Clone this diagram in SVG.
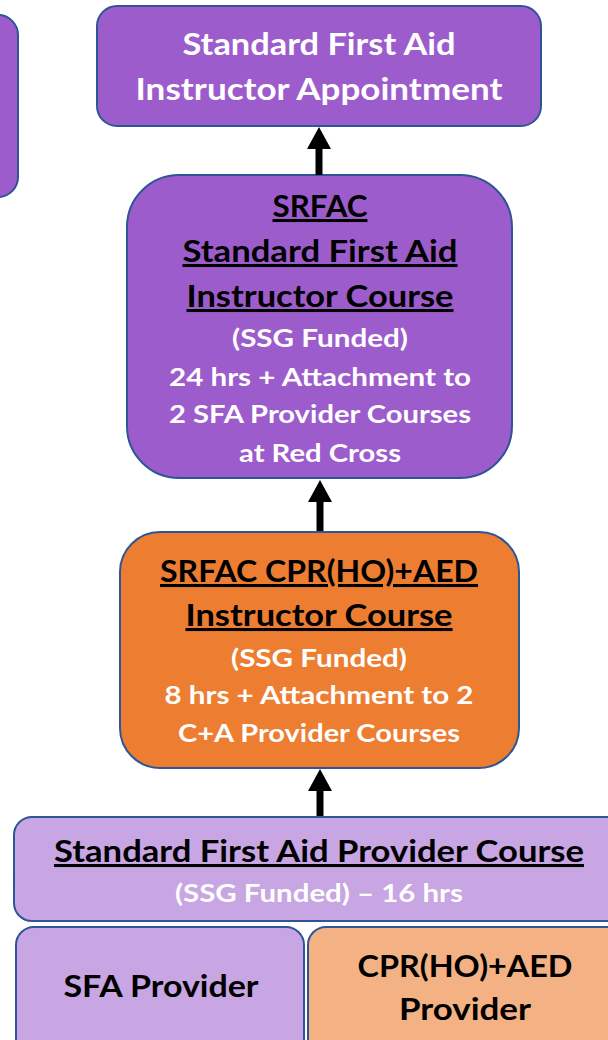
<svg xmlns="http://www.w3.org/2000/svg" width="608" height="1040" viewBox="0 0 608 1040">
<defs>
<marker id="ah" viewBox="0 0 22 24" refX="0" refY="12" markerWidth="22" markerHeight="24" orient="auto" markerUnits="userSpaceOnUse">
<path d="M0,0 L22,12 L0,24 z" fill="#000"/>
</marker>
<style>
.box{stroke:#2F5597;stroke-width:2}
.p{fill:#9D5CCC}
.o{fill:#ED7D31}
.lp{fill:#C8A5E3}
.lo{fill:#F4B183}
text{font-family:Lato,"Open Sans","Liberation Sans",sans-serif;font-weight:700;text-anchor:middle}
.w{fill:#fff}
.k{fill:#000}
.u{text-decoration:underline}
.big{font-size:30.5px}
.sm{font-size:25.5px}
.conn{stroke:#000;stroke-width:7;fill:none;marker-end:url(#ah)}
</style>
</defs>
<g id="left-partial">
<rect class="box p" x="-40" y="15" width="58" height="182" rx="20"/>
</g>
<g id="n-appointment">
<rect class="box p" x="97" y="6" width="444" height="120" rx="20"/>
<text class="w big" x="319" y="55" textLength="273" lengthAdjust="spacingAndGlyphs">Standard First Aid</text>
<text class="w big" x="319" y="100" textLength="367" lengthAdjust="spacingAndGlyphs">Instructor Appointment</text>
</g>
<g id="n-sfa-instructor">
<rect class="box p" x="127" y="175" width="385" height="303" rx="52"/>
<text class="k big u" x="320" y="217" textLength="95" lengthAdjust="spacingAndGlyphs">SRFAC</text>
<text class="k big u" x="320" y="262" textLength="275" lengthAdjust="spacingAndGlyphs">Standard First Aid</text>
<text class="k big u" x="320" y="307" textLength="267" lengthAdjust="spacingAndGlyphs">Instructor Course</text>
<text class="w sm" x="320" y="347" textLength="176" lengthAdjust="spacingAndGlyphs">(SSG Funded)</text>
<text class="w sm" x="320" y="386" textLength="302" lengthAdjust="spacingAndGlyphs">24 hrs + Attachment to</text>
<text class="w sm" x="320" y="423" textLength="302" lengthAdjust="spacingAndGlyphs">2 SFA Provider Courses</text>
<text class="w sm" x="320" y="462" textLength="162" lengthAdjust="spacingAndGlyphs">at Red Cross</text>
</g>
<g id="n-cpr-instructor">
<rect class="box o" x="120" y="532" width="399" height="236" rx="40"/>
<text class="k big u" x="319" y="582" textLength="318" lengthAdjust="spacingAndGlyphs">SRFAC CPR(HO)+AED</text>
<text class="k big u" x="319" y="626" textLength="267" lengthAdjust="spacingAndGlyphs">Instructor Course</text>
<text class="w sm" x="319" y="667" textLength="176" lengthAdjust="spacingAndGlyphs">(SSG Funded)</text>
<text class="w sm" x="319" y="704" textLength="309" lengthAdjust="spacingAndGlyphs">8 hrs + Attachment to 2</text>
<text class="w sm" x="319" y="742" textLength="282" lengthAdjust="spacingAndGlyphs">C+A Provider Courses</text>
</g>
<g id="n-sfa-provider-course">
<rect class="box lp" x="14" y="817" width="620" height="104" rx="18"/>
<text class="k big u" x="319" y="862" textLength="530" lengthAdjust="spacingAndGlyphs">Standard First Aid Provider Course</text>
<text class="w sm" x="319" y="902" textLength="288" lengthAdjust="spacingAndGlyphs">(SSG Funded) – 16 hrs</text>
</g>
<g id="n-sfa-provider">
<rect class="box lp" x="16" y="927" width="288" height="140" rx="18"/>
<text class="k big" x="161" y="997" textLength="195" lengthAdjust="spacingAndGlyphs">SFA Provider</text>
</g>
<g id="n-cpr-provider">
<rect class="box lo" x="308" y="927" width="330" height="140" rx="18"/>
<text class="k big" x="465" y="977" textLength="215" lengthAdjust="spacingAndGlyphs">CPR(HO)+AED</text>
<text class="k big" x="465" y="1020" textLength="132" lengthAdjust="spacingAndGlyphs">Provider</text>
</g>
<g id="connectors">
<path class="conn" d="M319,175 L319,149"/>
<path class="conn" d="M320,531 L320,502"/>
<path class="conn" d="M320,816 L320,791"/>
</g>
</svg>
